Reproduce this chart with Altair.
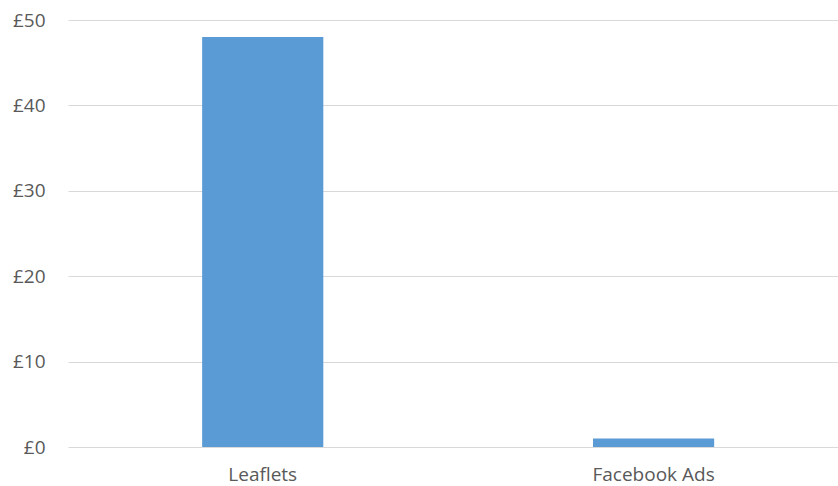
import altair as alt
import pandas as pd

# Cost per channel (GBP)
channels = ["Leaflets", "Facebook Ads"]
costs = [48, 1]
y_ticks = [0, 10, 20, 30, 40, 50]

df = pd.DataFrame({"channel": channels, "cost": costs})

FONT = "Open Sans"
TEXT = "#595959"

chart = (
    alt.Chart(df)
    .mark_bar(color="#5b9bd5")
    .encode(
        x=alt.X(
            "channel:N",
            sort=channels,
            title=None,
            scale=alt.Scale(paddingInner=0.69, paddingOuter=0.33, align=0.52),
            axis=alt.Axis(
                labelAngle=0,
                domain=False,
                ticks=False,
                labelPadding=18,
                labelFont=FONT,
                labelFontSize=19,
                labelColor=TEXT,
            ),
        ),
        y=alt.Y(
            "cost:Q",
            title=None,
            scale=alt.Scale(domain=[0, 50], nice=False),
            axis=alt.Axis(
                values=y_ticks,
                labelExpr="'£' + datum.value",
                domain=False,
                ticks=False,
                labelPadding=23,
                labelFont=FONT,
                labelFontSize=19,
                labelColor=TEXT,
                gridColor="#d9d9d9",
                gridWidth=1.2,
            ),
        ),
    )
    .properties(
        width=770,
        height=427,
        padding={"left": 68, "top": 20, "right": 0, "bottom": 39},
        autosize=alt.AutoSizeParams(type="none"),
        background="white",
    )
    .configure_view(stroke=None)
)

chart.save("out.html", embed_options={"renderer": "svg", "actions": False})
